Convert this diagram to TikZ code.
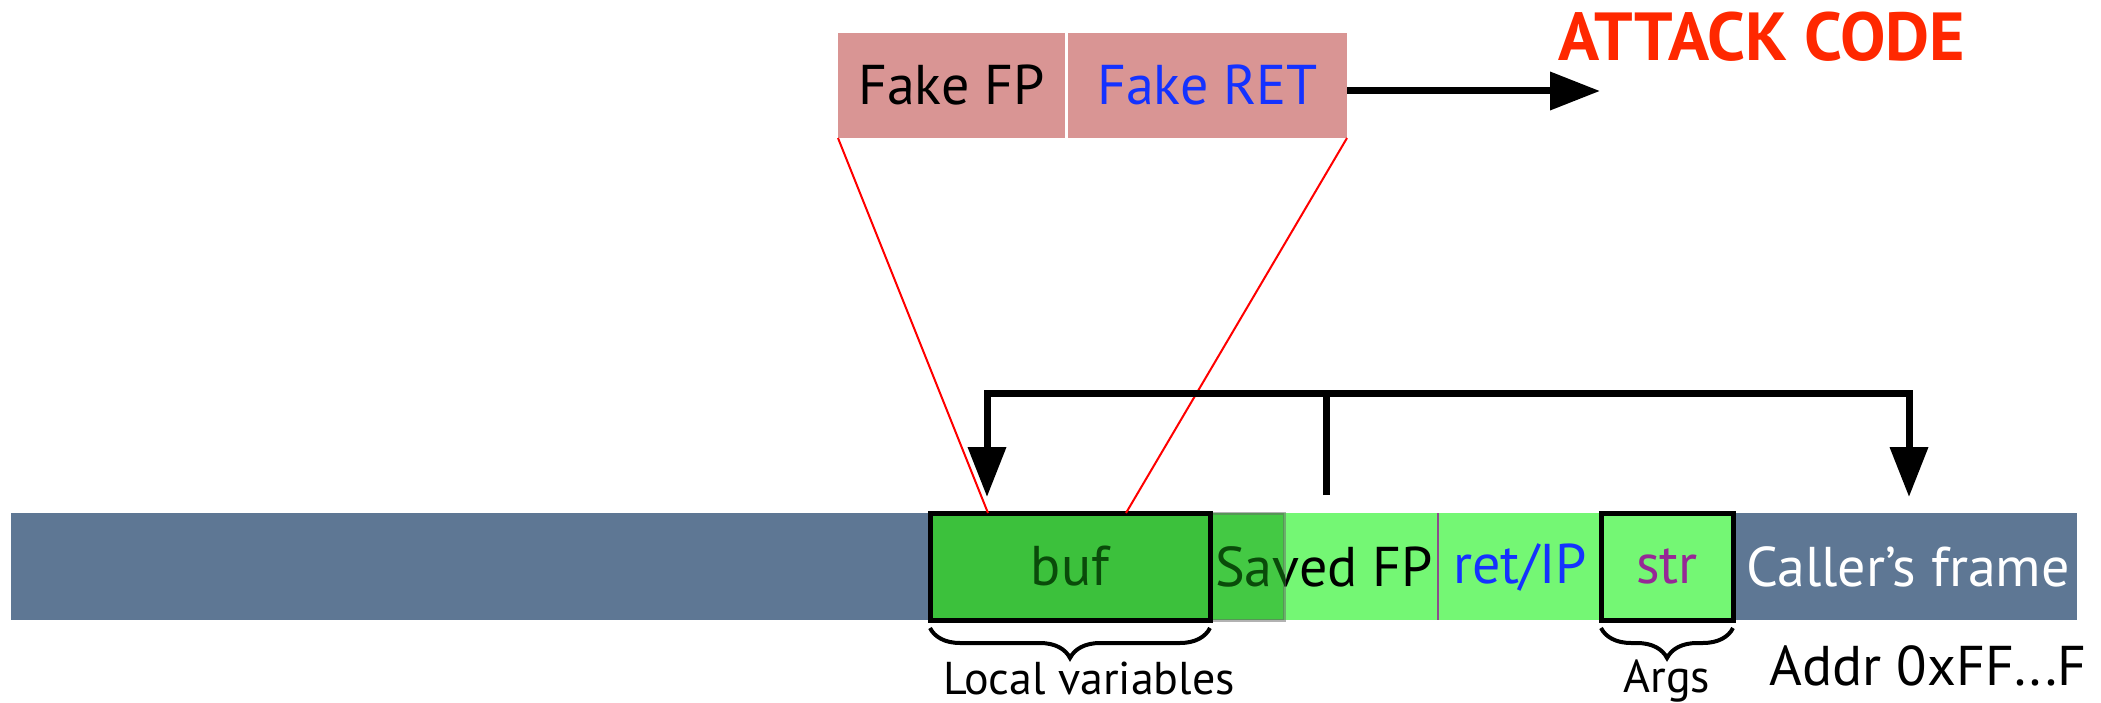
\documentclass[tikz,border=0pt]{standalone}
\usepackage{fontspec}
\setmainfont{PT Sans}
\usetikzlibrary{positioning, arrows.meta, calc, decorations.pathreplacing}
\definecolor{mybar}{RGB}{94,119,148}
\definecolor{mydarkgreen}{RGB}{60,193,60}
\definecolor{mylightgreen}{RGB}{116,247,116}
\definecolor{mypink}{RGB}{217,149,148}
\definecolor{myblue}{RGB}{20,50,255}
\definecolor{mypurple}{RGB}{150,40,150}
\definecolor{myred}{RGB}{255,40,0}
\definecolor{mytextgreen}{RGB}{10,75,10}
\tikzset{
  cell/.style={draw=none,outer sep=0,inner sep=0,minimum height=107,
    anchor=north west},
  framed/.style={cell, draw=black, line width=5},
  fake/.style={draw=none,outer sep=0,inner sep=0,minimum height=105,
    anchor=north west, fill=mypink},
  big/.style={inner sep=0, font=\fontsize{56}{60}\selectfont},
  small/.style={inner sep=0, font=\fontsize{46}{50}\selectfont},
  thickarrow/.style={line width=7, -{Triangle[length=50,width=37]}},
  brace/.style={decorate, line width=4, decoration={brace,mirror,amplitude=30}}
}

\begin{document}
\begin{tikzpicture}[x=1pt,y=1pt]
\useasboundingbox (0,0) rectangle (2101,-703);

% the stack
\node [cell, fill=mybar, minimum width=2066] (stack) at (11,-513) {};
\node [cell, fill=mylightgreen, minimum width=228] (savedfp) at (1210,-513) {};
\node [cell, fill=mylightgreen, minimum width=163] (retip) at (1438,-513) {};
\draw [line width=1.5, color=mypurple!60!gray] (retip.north west) -- (retip.south west);

\node [big] (fptext) at (1324,-567) {Saved FP};
\node [big, color=myblue] at (1520,-567) {ret/IP};
\node [big, color=white] at (1908,-567) {Caller’s frame};

% overflowing part of buf
\node [cell, fill=mydarkgreen, fill opacity=0.85, draw=black!60, draw opacity=0.5,
  line width=3, minimum width=74] (spill) at (1210,-513) {};
\begin{scope}
  \clip (spill.north west) rectangle (spill.south east);
  \node [big, color=mytextgreen] at (fptext.center) {Saved FP};
\end{scope}

\node [framed, fill=mydarkgreen, minimum width=280] (buf) at (930,-513) {};
\node [big, color=mytextgreen] at (buf.center) {buf};
\node [framed, fill=mylightgreen, minimum width=132] (str) at (1601,-513) {};
\node [big, color=mypurple] at (str.center) {str};

% braces below
\draw [brace] ([yshift=-8]buf.south west) -- ([yshift=-8]buf.south east);
\draw [brace] ([yshift=-8]str.south west) -- ([yshift=-8]str.south east);
\node [small] (local) at (1089,-678) {Local variables};
\node [small] (args) at (1667,-681) {Args};
\node [big] (addr) at (1928,-666) {Addr 0xFF...F};

% fake frame written into buf
\node [fake, minimum width=227] (fakefp) at (838,-33) {};
\node [fake, minimum width=279] (fakeret) at (1068,-33) {};
\node [big] at (fakefp.center) {Fake FP};
\node [big, color=myblue] at (fakeret.center) {Fake RET};
\node [inner sep=0, color=myred, font=\fontsize{68}{72}\selectfont\bfseries] (attack) at (1762,-37) {ATTACK CODE};

\draw [color=red, line width=2] (fakefp.south west) -- ($(buf.north west)+(58,0)$);
\draw [color=red, line width=2] (fakeret.south east) -- ($(buf.north west)+(196,0)$);

\coordinate (codetip) at (1600,-91);
\draw [thickarrow] (fakeret.east |- codetip) -- (codetip);

% frame pointer jumps
\coordinate (stemtop) at (1326,-393);
\coordinate (stembot) at (1326,-495);
\coordinate (tipl) at (987,-497);
\coordinate (tipr) at (1909,-497);
\draw [line width=7] (stembot) -- (stemtop);
\draw [thickarrow] (stemtop) -| (tipl);
\draw [thickarrow] (stemtop) -| (tipr);
\end{tikzpicture}
\end{document}
